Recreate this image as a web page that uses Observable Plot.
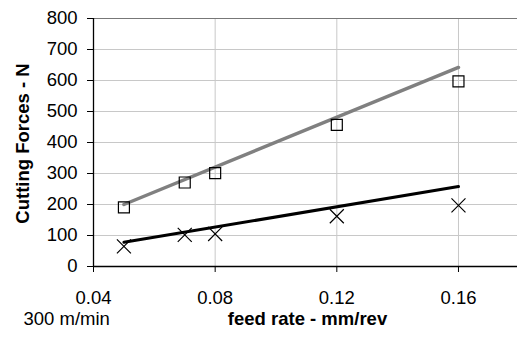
<!DOCTYPE html>
<html>
<head>
<meta charset="utf-8">
<script src="https://cdn.jsdelivr.net/npm/d3@7"></script>
<script src="https://cdn.jsdelivr.net/npm/@observablehq/plot@0.6"></script>
<style>
  html, body { margin: 0; padding: 0; background: #fff; }
</style>
</head>
<body>
<div id="chart"></div>
<script>
// Data
const feedRates = [0.05, 0.07, 0.08, 0.12, 0.16];
const squareForces = [191, 271, 301, 457, 597];
const crossForces = [65, 102, 105, 162, 197];
const squareTrendX = [0.05, 0.16];
const squareTrendY = [200, 642];
const crossTrendX = [0.05, 0.16];
const crossTrendY = [78, 258];
const xTicks = [0.04, 0.08, 0.12, 0.16];
const yTicks = [0, 100, 200, 300, 400, 500, 600, 700, 800];
const xTitle = "feed rate - mm/rev";
const yTitle = "Cutting Forces - N";
const noteText = "300 m/min";

const squares = feedRates.map((x, i) => ({x, y: squareForces[i]}));
const crosses = feedRates.map((x, i) => ({x, y: crossForces[i]}));
const squareTrend = squareTrendX.map((x, i) => ({x, y: squareTrendY[i]}));
const crossTrend = crossTrendX.map((x, i) => ({x, y: crossTrendY[i]}));

const squareSymbol = {
  draw(ctx, size) {
    const h = Math.sqrt(size) / 2;
    ctx.moveTo(-h, -h); ctx.lineTo(h, -h); ctx.lineTo(h, h); ctx.lineTo(-h, h); ctx.closePath();
  }
};
const crossSymbol = {
  draw(ctx, size) {
    const h = Math.sqrt(size) / 2;
    ctx.moveTo(-h, -h); ctx.lineTo(h, h);
    ctx.moveTo(h, -h); ctx.lineTo(-h, h);
  }
};

const fontFam = "'Liberation Sans', Arial, sans-serif";

const chart = Plot.plot({
  width: 517,
  height: 338,
  marginLeft: 93,
  marginRight: 0,
  marginTop: 18,
  marginBottom: 72,
  style: {fontFamily: fontFam, fontSize: "18.5px", color: "#000", background: "#fff"},
  x: {domain: [0.04, 0.18], range: [93, 518.8]},
  y: {domain: [0, 800], range: [266, 18]},
  marks: [
    Plot.gridY(yTicks.filter(d => d > 0 && d < 800), {stroke: "#c8c8c8", strokeOpacity: 1, strokeWidth: 1}),
    Plot.gridX(xTicks.filter(d => d > 0.04), {stroke: "#c8c8c8", strokeOpacity: 1, strokeWidth: 1}),
    Plot.ruleY([800], {stroke: "#777", strokeWidth: 1}),
    Plot.line(squareTrend, {x: "x", y: "y", stroke: "#808080", strokeWidth: 3.5}),
    Plot.line(crossTrend, {x: "x", y: "y", stroke: "#000", strokeWidth: 3}),
    Plot.dot(squares, {x: "x", y: "y", symbol: squareSymbol, r: 6.2, stroke: "#000", strokeWidth: 1.2, fill: "none"}),
    Plot.dot(crosses, {x: "x", y: "y", symbol: crossSymbol, r: 7.9, stroke: "#000", strokeWidth: 1.2, fill: "none"}),
    Plot.ruleX([0.04], {stroke: "#000", strokeWidth: 1.3}),
    Plot.ruleY([0], {stroke: "#000", strokeWidth: 1.3}),
    Plot.axisY(yTicks, {tickSize: 6, tickPadding: 10, label: null, fontSize: 18.5, stroke: "#000"}),
    Plot.axisX(xTicks, {tickSize: 6, tickPadding: 18, label: null, fontSize: 18.5, stroke: "#000", tickFormat: d => d.toFixed(2)}),
    Plot.text([yTitle], {frameAnchor: "left", textAnchor: "middle", lineAnchor: "middle", rotate: -90, dx: -70.5, dy: 1, fontWeight: "bold", fontSize: 18.5, fill: "#000"}),
    Plot.text([xTitle], {frameAnchor: "bottom", textAnchor: "middle", lineAnchor: "middle", dx: 2, dy: 53, fontWeight: "bold", fontSize: 18.5, fill: "#000"}),
    Plot.text([noteText], {frameAnchor: "bottom-left", textAnchor: "start", lineAnchor: "middle", dx: -70, dy: 53, fontSize: 18.5, fill: "#000"})
  ]
});
document.getElementById("chart").appendChild(chart);
</script>
</body>
</html>
